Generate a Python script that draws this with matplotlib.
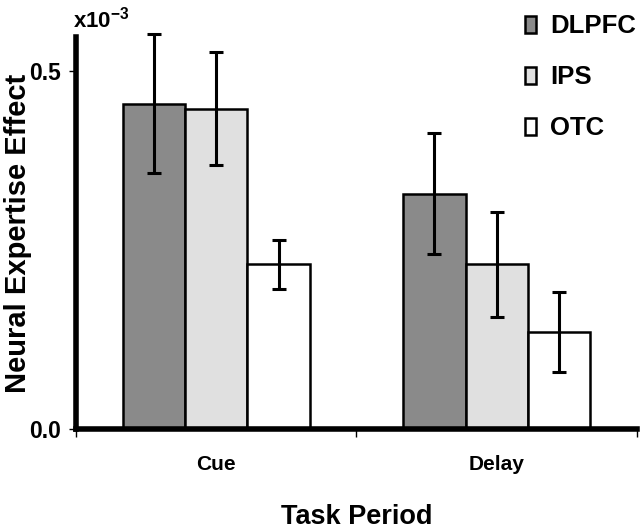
import numpy as np
import matplotlib
matplotlib.use("Agg")
import matplotlib.pyplot as plt
from matplotlib.patches import Patch

plt.rcParams['font.family'] = ['Liberation Sans', 'DejaVu Sans']
plt.rcParams['font.weight'] = 'bold'
plt.rcParams['axes.labelweight'] = 'bold'
plt.rcParams['mathtext.default'] = 'regular'

# data (x10^-3)
periods = ['Cue', 'Delay']
regions = ['DLPFC', 'IPS', 'OTC']
dlpfc = [0.455, 0.329]
ips = [0.448, 0.230]
otc = [0.230, 0.136]
dlpfc_err = [0.097, 0.085]
ips_err = [0.079, 0.074]
otc_err = [0.034, 0.056]

colors = ['#8a8a8a', '#e0e0e0', '#ffffff']

fig = plt.figure(figsize=(6.4, 5.29), dpi=100)
ax = fig.add_axes([0.119, 0.189, 0.876, 0.741])

x = np.arange(len(periods))
w = 0.222
for i, (vals, errs) in enumerate([(dlpfc, dlpfc_err), (ips, ips_err), (otc, otc_err)]):
    ax.bar(x + (i - 1) * w, vals, w, color=colors[i], edgecolor='black',
           linewidth=1.8, zorder=2)
    ax.errorbar(x + (i - 1) * w, vals, yerr=errs, fmt='none', ecolor='black',
                elinewidth=2.2, capsize=5, capthick=2.2, zorder=3, clip_on=False)

ax.set_xlim(-0.5, 1.5)
ax.set_ylim(0, 0.548)

for s in ['top', 'right']:
    ax.spines[s].set_visible(False)
ax.spines['left'].set_linewidth(4)
ax.spines['bottom'].set_linewidth(4)

ax.set_yticks([0.0, 0.5])
ax.set_yticklabels(['0.0', '0.5'], fontsize=16.5)
ax.tick_params(axis='y', length=5, width=1, pad=6)

ax.set_xticks(x)
ax.set_xticklabels(periods, fontsize=15)
ax.tick_params(axis='x', which='major', length=0, pad=18.5)
ax.set_xticks([-0.5, 0.5, 1.5], minor=True)
ax.tick_params(axis='x', which='minor', length=6, width=1, direction='out')

ax.set_ylabel('Neural Expertise Effect', fontsize=21)
ax.yaxis.set_label_coords(-0.078, 0.5)
ax.set_xlabel('Task Period', fontsize=19.5, labelpad=22)

fig.text(0.114, 0.948, r'x10$^{-3}$', fontsize=16, ha='left', va='baseline')

handles = [Patch(facecolor=c, edgecolor='black', linewidth=1.8) for c in colors]
ax.legend(handles, regions, loc='upper left', bbox_to_anchor=(0.82, 0.973),
          bbox_transform=fig.transFigure, frameon=False, fontsize=18.5,
          handlelength=0.43, handleheight=0.62, handletextpad=0.55,
          labelspacing=1.05, borderaxespad=0, borderpad=0)

fig.savefig('out.png', dpi=100)
